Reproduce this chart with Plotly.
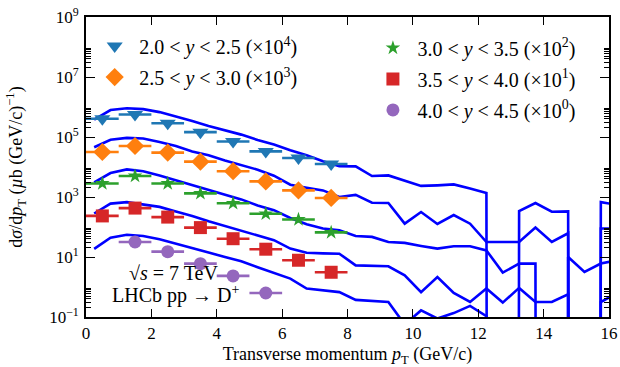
import numpy as np
import plotly.graph_objects as go

# ---------------- data (cross sections in microbarn/(GeV/c), before scaling) -------------
pt_bins = [0.5, 1.5, 2.5, 3.5, 4.5, 5.5, 6.5, 7.5]
pt_bins_y45 = [1.5, 2.5, 3.5, 4.5, 5.5]
pt_halfwidth = 0.5

labels = ["2.0 < <i>y</i> < 2.5 (×10<sup>4</sup>)",
          "2.5 < <i>y</i> < 3.0 (×10<sup>3</sup>)",
          "3.0 < <i>y</i> < 3.5 (×10<sup>2</sup>)",
          "3.5 < <i>y</i> < 4.0 (×10<sup>1</sup>)",
          "4.0 < <i>y</i> < 4.5 (×10<sup>0</sup>)"]
scales = [1e4, 1e3, 1e2, 1e1, 1e0]
colors = ["#1f77b4", "#ff7f0e", "#2ca02c", "#d62728", "#9467bd"]
symbols = ["triangle-down", "diamond", "star", "square", "circle"]
msizes = [14, 14, 11, 13, 13]

data_y20 = [40.7, 56.2, 28.8, 14.5, 7.08, 3.31, 2.0, 1.26]
data_y25 = [31.6, 50.1, 30.2, 15.1, 7.24, 3.31, 1.66, 0.93]
data_y30 = [28.2, 50.1, 28.2, 13.2, 6.17, 2.75, 1.78, 0.66]
data_y35 = [23.4, 42.7, 21.4, 9.55, 4.07, 1.82, 0.78, 0.31]
data_y40 = [31.6, 15.1, 6.0, 2.34, 0.63]

# theory curves (0 = no prediction in that bin)
theory_pt = [0.25, 0.75, 1.25, 1.75, 2.25, 2.75, 3.25, 3.75, 4.25, 4.75, 5.25,
             5.75, 6.25, 6.75, 7.25, 7.75, 8.25, 8.75, 9.25, 9.75, 10.25, 10.75,
             11.25, 11.75, 12.25, 12.75, 13.25, 13.75, 14.25, 14.75, 15.25,
             15.75, 16.25]
theory_y20 = [38.0, 79.4, 91.2, 85.1, 67.6, 49.0, 33.9, 23.4, 16.6, 12.0, 7.94,
              5.62, 3.63, 2.45, 1.55, 1.07, 1.05, 0.50, 0.525, 0.347, 0.234, 0.245,
              0.263, 0.191, 0.135, 0, 0.0339, 0.0631, 0.0324, 0.0331, 0,
              0.0676, 0.055]
theory_y25 = [45.7, 81.3, 93.3, 89.1, 67.6, 50.1, 33.1, 24.5, 16.6, 11.5, 8.13,
              5.13, 2.57, 2.04, 1.66, 1.0, 1.17, 0.646, 0.631, 0.129, 0.316, 0.126,
              0.251, 0.129, 0.0316, 0.0316, 0.0316, 0.0955, 0.0316, 0.0617, 0,
              0.0891, 0.0891]
theory_y30 = [30.9, 63.1, 83.2, 72.4, 52.5, 36.3, 25.7, 18.2, 12.3, 8.32, 5.25,
              3.63, 2.0, 1.23, 0.891, 0.776, 0.501, 0.468, 0.316, 0.295, 0.234, 0.191,
              0.229, 0.229, 0.166, 0.0302, 0.0603, 0.0603, 0, 0.1, 0.0316,
              0.0603, 0.0794]
theory_y35 = [28.2, 60.3, 67.6, 56.2, 46.8, 33.1, 23.4, 15.5, 10.7, 7.76, 5.37,
              3.63, 1.91, 1.38, 1.32, 1.29, 0.525, 0.513, 0.490, 0.245, 0.0676, 0.214,
              0.0631, 0.0316, 0.0891, 0.0302, 0.0933, 0.0316, 0.0316, 0.0575, 0,
              0.0316, 0.0631]
theory_y40 = [18.6, 43.7, 55.0, 50.1, 38.9, 28.2, 20.4, 14.1, 10.0, 7.24, 4.57,
              2.95, 1.91, 0.891, 0.776, 0.676, 0.372, 0.347, 0.316, 0.0562, 0.166, 0.0891,
              0.135, 0.234, 0.107, 0, 0, 0, 0, 0, 0,
              0, 0]

ytick_vals = [1e-1, 1e1, 1e3, 1e5, 1e7, 1e9]
ytick_text = ["10<sup>−1</sup>", "10<sup>1</sup>", "10<sup>3</sup>",
              "10<sup>5</sup>", "10<sup>7</sup>", "10<sup>9</sup>"]
xtick_vals = [0, 2, 4, 6, 8, 10, 12, 14, 16]

# ---------------- figure -------------
FONT = "Liberation Serif"
fig = go.Figure()

theories = [theory_y20, theory_y25, theory_y30, theory_y35, theory_y40]
for th, s in zip(theories, scales):
    v = np.array(th, dtype=float) * s
    # log axis: non-positive values clipped far below the axis (as matplotlib does)
    v = np.where(v > 0, v, 1e-300)
    fig.add_trace(go.Scatter(x=theory_pt, y=v, mode="lines",
                             line=dict(color="#0000ff", width=2.6),
                             showlegend=False, hoverinfo="skip", cliponaxis=True))

datas = [data_y20, data_y25, data_y30, data_y35, data_y40]
xs = [pt_bins, pt_bins, pt_bins, pt_bins, pt_bins_y45]
for i, (d, s) in enumerate(zip(datas, scales)):
    fig.add_trace(go.Scatter(
        x=xs[i], y=np.array(d) * s, mode="markers", name=labels[i],
        marker=dict(symbol=symbols[i], size=msizes[i], color=colors[i],
                    line=dict(width=0)),
        error_x=dict(type="constant", value=pt_halfwidth, thickness=2.6,
                     width=0, color=colors[i]),
        legend="legend" if i < 2 else "legend2",
        legendgroup=f"g{i}",
    ))

fig.add_annotation(text="√<i>s</i> = 7 TeV",
                   xref="paper", yref="paper", x=0.168, y=0.148,
                   xanchor="center", yanchor="middle",
                   showarrow=False, font=dict(family=FONT, size=20, color="black"))
fig.add_annotation(text="LHCb pp → D<sup>+</sup>",
                   xref="paper", yref="paper", x=0.171, y=0.076,
                   xanchor="center", yanchor="middle",
                   showarrow=False, font=dict(family=FONT, size=20, color="black"))

axis_common = dict(showline=True, linecolor="black", linewidth=1.6, mirror="ticks",
                   ticks="inside", tickcolor="black", tickwidth=1.4, showgrid=False,
                   zeroline=False, automargin=False,
                   tickfont=dict(family=FONT, size=17, color="black"))

fig.update_xaxes(range=[0, 16], tickvals=xtick_vals, ticklen=8,
                 title=dict(text="Transverse momentum <i>p</i><sub>T</sub> (GeV/c)",
                            font=dict(family=FONT, size=18, color="black"), standoff=6),
                 **axis_common)
minor_vals = [k * 10.0 ** d for d in range(-1, 9, 2) for k in range(2, 10)]
fig.update_yaxes(type="log", range=[-1, 9], tickvals=ytick_vals, ticktext=ytick_text,
                 ticklen=9, ticklabelstandoff=2,
                 minor=dict(tickvals=minor_vals, ticks="inside", ticklen=5,
                            tickcolor="black", tickwidth=1.2),
                 title=dict(text="d<i>σ</i>/d<i>p</i><sub>T</sub> (<i>µ</i>b (GeV/c)<sup>−1</sup>)",
                            font=dict(family=FONT, size=18, color="black"), standoff=22),
                 **axis_common)

legend_common = dict(font=dict(family=FONT, size=20, color="black"),
                     bgcolor="rgba(0,0,0,0)", borderwidth=0, tracegroupgap=2,
                     itemwidth=39, yanchor="top", xanchor="left")
fig.update_layout(
    width=620, height=367,
    margin=dict(l=86, r=11, t=17, b=50),
    plot_bgcolor="white", paper_bgcolor="white",
    font=dict(family=FONT, size=17, color="black"),
    legend=dict(x=0.008, y=0.968, **legend_common),
    legend2=dict(x=0.540, y=0.962, **legend_common),
)

fig.write_html("out.html", config={"displayModeBar": False},
               post_script="document.body.style.margin='0';")
